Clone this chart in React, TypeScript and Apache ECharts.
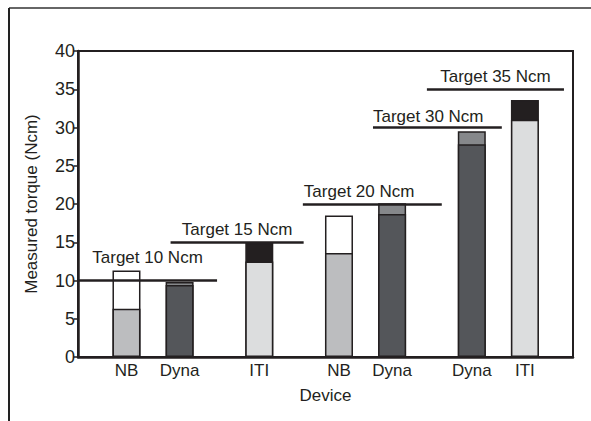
import React, { useEffect, useRef } from "react";
import * as echarts from "echarts";

const categories = ["NB", "Dyna", "ITI", "NB", "Dyna", "Dyna", "ITI"];
const slots = [2, 4, 7, 10, 12, 15, 17];
const lowerValues = [6.3, 9.4, 12.5, 13.6, 18.7, 27.8, 31.0];
const upperTotals = [11.3, 9.8, 14.9, 18.5, 20.1, 29.5, 33.6];
const lowerColors = ["#bcbdbf", "#54565a", "#dcddde", "#bcbdbf", "#54565a", "#54565a", "#dcddde"];
const upperColors = ["#ffffff", "#86888b", "#231f20", "#ffffff", "#86888b", "#86888b", "#231f20"];

const targetNames = ["Target 10 Ncm", "Target 15 Ncm", "Target 20 Ncm", "Target 30 Ncm", "Target 35 Ncm"];
const targetValues = [10, 15, 20, 30, 35];
const targetStart = [0.175, 3.66, 8.64, 11.28, 13.31];
const targetEnd = [5.41, 8.67, 13.87, 16.13, 18.47];
const targetLabelPos = ["insideMiddleTop", "insideMiddleTop", "insideStartTop", "insideStartTop", "insideMiddleTop"];
const targetLabelGap = [[0, 15], [0, 4], [1, 4], [0, 3], [0, 4]];

const yTicks = { min: 0, max: 40, interval: 5 };
const xRange = { min: 0.175, max: 18.81 };

export default function App() {
  const ref = useRef<HTMLDivElement>(null);
  useEffect(() => {
    if (!ref.current) return;
    const chart = echarts.init(ref.current, undefined, { renderer: "svg" });
    const font = "Liberation Sans, Arial, sans-serif";
    const ink = "#231f20";
    const option: any = {
      animation: false,
      backgroundColor: "#ffffff",
      grid: {
        left: 78,
        top: 51,
        right: 18,
        bottom: 64,
        show: true,
        borderColor: ink,
        borderWidth: 2,
        backgroundColor: "transparent",
      },
      xAxis: {
        type: "value",
        min: xRange.min,
        max: xRange.max,
        name: "Device",
        nameLocation: "middle",
        nameGap: 30,
        nameTextStyle: { fontFamily: font, fontSize: 17, color: ink },
        axisLine: { show: true, lineStyle: { color: ink, width: 2.5 } },
        axisTick: { show: false },
        splitLine: { show: false },
        axisLabel: {
          customValues: slots,
          fontFamily: font,
          fontSize: 17,
          color: ink,
          margin: 5,
          formatter: (v: number) => {
            const i = slots.findIndex((s) => Math.abs(s - v) < 1e-6);
            return i >= 0 ? categories[i] : "";
          },
        },
      },
      yAxis: {
        type: "value",
        min: yTicks.min,
        max: yTicks.max,
        interval: yTicks.interval,
        name: "Measured torque (Ncm)",
        nameLocation: "middle",
        nameGap: 38,
        nameTextStyle: { fontFamily: font, fontSize: 17, color: ink },
        axisLine: { show: true, lineStyle: { color: ink, width: 2.5 } },
        axisTick: { show: true, length: 4, lineStyle: { color: ink, width: 1.5 } },
        splitLine: { show: false },
        axisLabel: { fontFamily: font, fontSize: 18, color: ink, margin: 3 },
      },
      series: [
        {
          name: "total",
          type: "bar",
          barWidth: 28,
          barGap: "-100%",
          data: slots.map((s, i) => ({
            value: [s, upperTotals[i]],
            itemStyle: { color: upperColors[i], borderColor: ink, borderWidth: 1.5 },
          })),
          markLine: {
            silent: true,
            symbol: "none",
            lineStyle: { color: ink, width: 2.5, type: "solid" },
            data: targetValues.map((t, i) => [
              {
                coord: [targetStart[i], t],
                label: {
                  show: true,
                  formatter: targetNames[i],
                  position: targetLabelPos[i],
                  distance: targetLabelGap[i],
                  fontFamily: font,
                  fontSize: 17,
                  color: ink,
                },
              },
              { coord: [targetEnd[i], t] },
            ]),
          },
        },
        {
          name: "lower",
          type: "bar",
          barWidth: 28,
          barGap: "-100%",
          data: slots.map((s, i) => ({
            value: [s, lowerValues[i]],
            itemStyle: { color: lowerColors[i], borderColor: ink, borderWidth: 1.5 },
          })),
        },
      ],
      graphic: [
        { type: "line", shape: { x1: 9, y1: 8, x2: 591, y2: 8 }, style: { stroke: "#333", lineWidth: 1.5 } },
        { type: "line", shape: { x1: 9, y1: 8, x2: 9, y2: 421 }, style: { stroke: "#222", lineWidth: 2 } },
      ],
    };
    chart.setOption(option);
    return () => chart.dispose();
  }, []);
  return <div ref={ref} style={{ position: "fixed", left: 0, top: 0, width: 591, height: 421 }} />;
}
